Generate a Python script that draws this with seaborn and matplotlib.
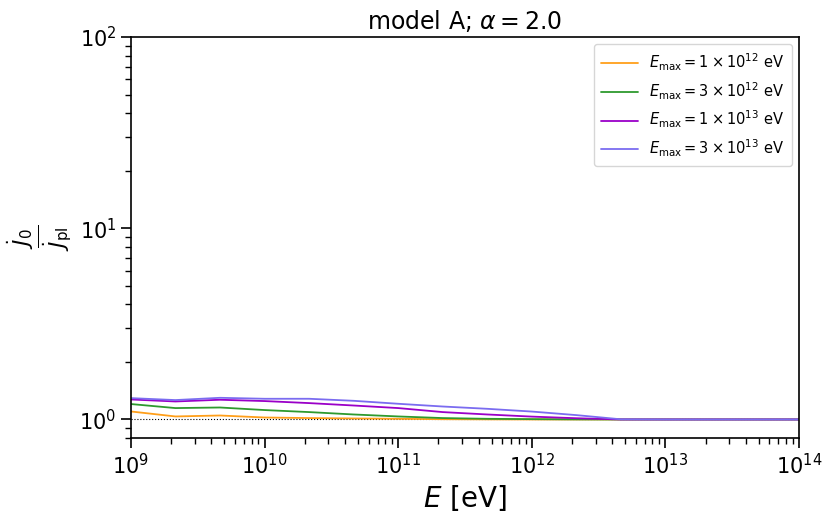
import numpy as np
import pandas as pd
import matplotlib
matplotlib.use("Agg")
import matplotlib.pyplot as plt
import seaborn as sns

# energy grid, three points per decade
energy = [1e9, 2.15e9, 4.64e9, 1e10, 2.15e10, 4.64e10, 1e11, 2.15e11, 4.64e11,
          1e12, 2.15e12, 4.64e12, 1e13, 2.15e13, 4.64e13, 1e14]

ratio_1e12 = [1.101, 1.037, 1.049, 1.024, 1.017, 1.012, 1.008, 1.003, 1.001,
              1.0, 1.0, 1.0, 1.0, 1.0, 1.0, 1.0]
ratio_3e12 = [1.204, 1.147, 1.155, 1.120, 1.093, 1.062, 1.037, 1.017, 1.008,
              1.004, 1.001, 1.0, 1.0, 1.0, 1.0, 1.0]
ratio_1e13 = [1.272, 1.242, 1.268, 1.248, 1.218, 1.183, 1.147, 1.093, 1.062,
              1.035, 1.015, 1.0, 1.0, 1.0, 1.0, 1.0]
ratio_3e13 = [1.293, 1.263, 1.298, 1.283, 1.283, 1.252, 1.208, 1.169, 1.137,
              1.100, 1.054, 1.002, 1.0, 1.0, 1.0, 1.0]

labels = [r"$E_{\rm max} = 1 \times 10^{12}$ eV",
          r"$E_{\rm max} = 3 \times 10^{12}$ eV",
          r"$E_{\rm max} = 1 \times 10^{13}$ eV",
          r"$E_{\rm max} = 3 \times 10^{13}$ eV"]
colors = ["#ff9f1a", "#2e9a2e", "#9a00c8", "#7b6cf0"]

frames = []
for lab, vals in zip(labels, [ratio_1e12, ratio_3e12, ratio_1e13, ratio_3e13]):
    frames.append(pd.DataFrame({"E": energy, "ratio": vals, "case": lab}))
df = pd.concat(frames, ignore_index=True)

sns.set_style("ticks")
plt.rcParams["font.family"] = ["DejaVu Sans"]
plt.rcParams["mathtext.fontset"] = "dejavusans"
for key in ["text.color", "axes.labelcolor", "xtick.color", "ytick.color",
            "axes.edgecolor"]:
    plt.rcParams[key] = "black"

fig = plt.figure(figsize=(8.31, 5.2), dpi=100)
ax = fig.add_axes([131 / 831, 1 - 438 / 520, 668 / 831, 401 / 520])

ax.axhline(1.0, color="k", ls=":", lw=0.8)
sns.lineplot(data=df, x="E", y="ratio", hue="case", palette=colors,
             lw=1.3, ax=ax)

ax.set_xscale("log")
ax.set_yscale("log")
ax.set_xlim(1e9, 1e14)
ax.set_ylim(0.8, 100)
for s in ax.spines.values():
    s.set_linewidth(1.2)
    s.set_color("black")
ax.tick_params(which="major", length=7, width=1.2, labelsize=15, direction="out")
ax.tick_params(which="minor", length=4, width=1.0, direction="out")

ax.set_xlabel(r"$E$ [eV]", fontsize=20)
ax.set_ylabel(r"$\frac{\dot{J}_0}{\dot{J}_{\rm pl}}$", fontsize=22)
ax.set_title(r"model A; $\alpha = 2.0$", fontsize=17)
ax.legend(title=None, fontsize=10.5, loc="upper right", frameon=True,
          handlelength=2.5, borderpad=0.5)

fig.savefig("out.png", dpi=100)
